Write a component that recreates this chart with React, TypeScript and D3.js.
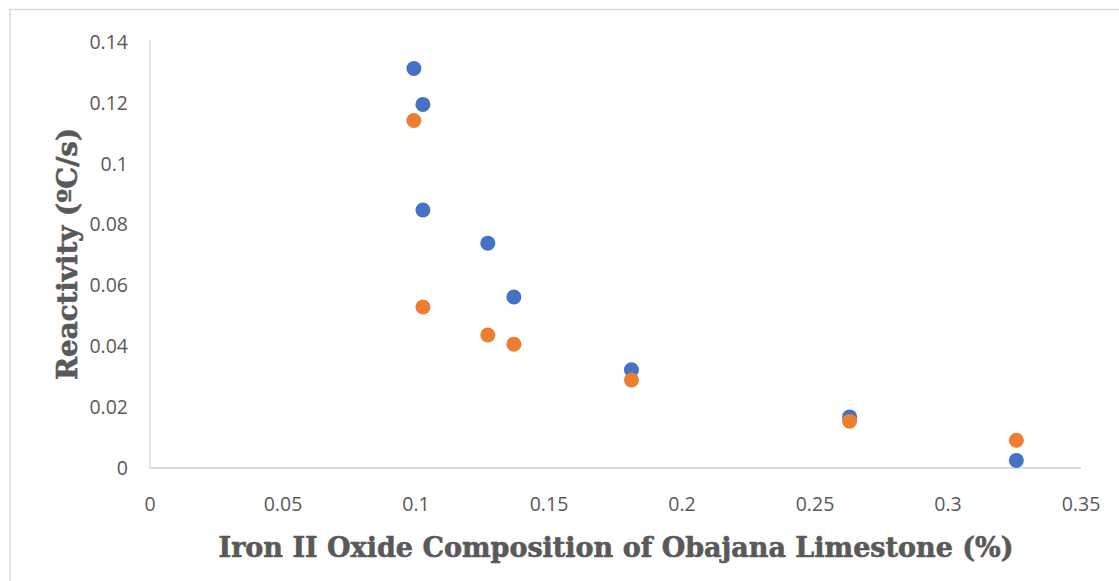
import React from "react";
import * as d3 from "d3";

const xTicks = [0, 0.05, 0.1, 0.15, 0.2, 0.25, 0.3, 0.35];
const yTicks = [0, 0.02, 0.04, 0.06, 0.08, 0.1, 0.12, 0.14];

const seriesAX = [0.0992, 0.1026, 0.1026, 0.127, 0.1368, 0.181, 0.263, 0.3257];
const seriesAY = [0.1313, 0.1195, 0.0848, 0.0739, 0.0562, 0.0323, 0.0168, 0.0025];
const seriesBX = [0.0992, 0.1026, 0.127, 0.1368, 0.181, 0.263, 0.3257];
const seriesBY = [0.1142, 0.0529, 0.0437, 0.0407, 0.0289, 0.0154, 0.0091];

const xTitle = "Iron II Oxide Composition of Obajana Limestone (%)";
const yTitle = "Reactivity (ºC/s)";

export default function App() {
  const W = 1119, H = 581;
  const x = d3.scaleLinear().domain([0, 0.35]).range([150, 1081]);
  const y = d3.scaleLinear().domain([0, 0.14]).range([468, 42]);
  const tickFont = "'Open Sans', 'Liberation Sans', sans-serif";
  const titleFont = "'DejaVu Serif', serif";
  const A = seriesAX.map((v, i) => [v, seriesAY[i]]);
  const B = seriesBX.map((v, i) => [v, seriesBY[i]]);
  return (
    <svg width={W} height={H} style={{ position: "absolute", left: 0, top: 0 }}>
      <rect x={0} y={0} width={W} height={H} fill="#fff" />
      <rect x={10} y={9.5} width={W + 20} height={H + 20} fill="none" stroke="#d9d9d9" strokeWidth={1.5} />
      <line x1={x(0)} x2={x(0)} y1={y(0.14) - 2} y2={y(0)} stroke="#d9d9d9" strokeWidth={1.5} />
      <line x1={x(0)} x2={x(0.35)} y1={y(0)} y2={y(0)} stroke="#d0d0d0" strokeWidth={1.5} />
      {yTicks.map((t) => (
        <text key={"y" + t} x={128} y={y(t)} dy="0.35em" textAnchor="end" fontFamily={tickFont} fontSize={19.5} fill="#595959">
          {String(t)}
        </text>
      ))}
      {xTicks.map((t) => (
        <text key={"x" + t} x={x(t)} y={504} dy="0.35em" textAnchor="middle" fontFamily={tickFont} fontSize={19.5} fill="#595959">
          {String(t)}
        </text>
      ))}
      {A.map((d, i) => (
        <circle key={"a" + i} cx={x(d[0])} cy={y(d[1])} r={7.5} fill="#4472C4" />
      ))}
      {B.map((d, i) => (
        <circle key={"b" + i} cx={x(d[0])} cy={y(d[1])} r={7.5} fill="#ED7D31" />
      ))}
      <text x={616} y={557} textAnchor="middle" fontFamily={titleFont} fontWeight="bold" fontSize={27} fill="#595959" stroke="#595959" strokeWidth={0.6} textLength={795} lengthAdjust="spacingAndGlyphs">
        {xTitle}
      </text>
      <text transform="translate(77,254) rotate(-90)" textAnchor="middle" fontFamily={titleFont} fontWeight="bold" fontSize={27} fill="#595959" stroke="#595959" strokeWidth={0.6} textLength={252} lengthAdjust="spacingAndGlyphs">
        {yTitle}
      </text>
    </svg>
  );
}
